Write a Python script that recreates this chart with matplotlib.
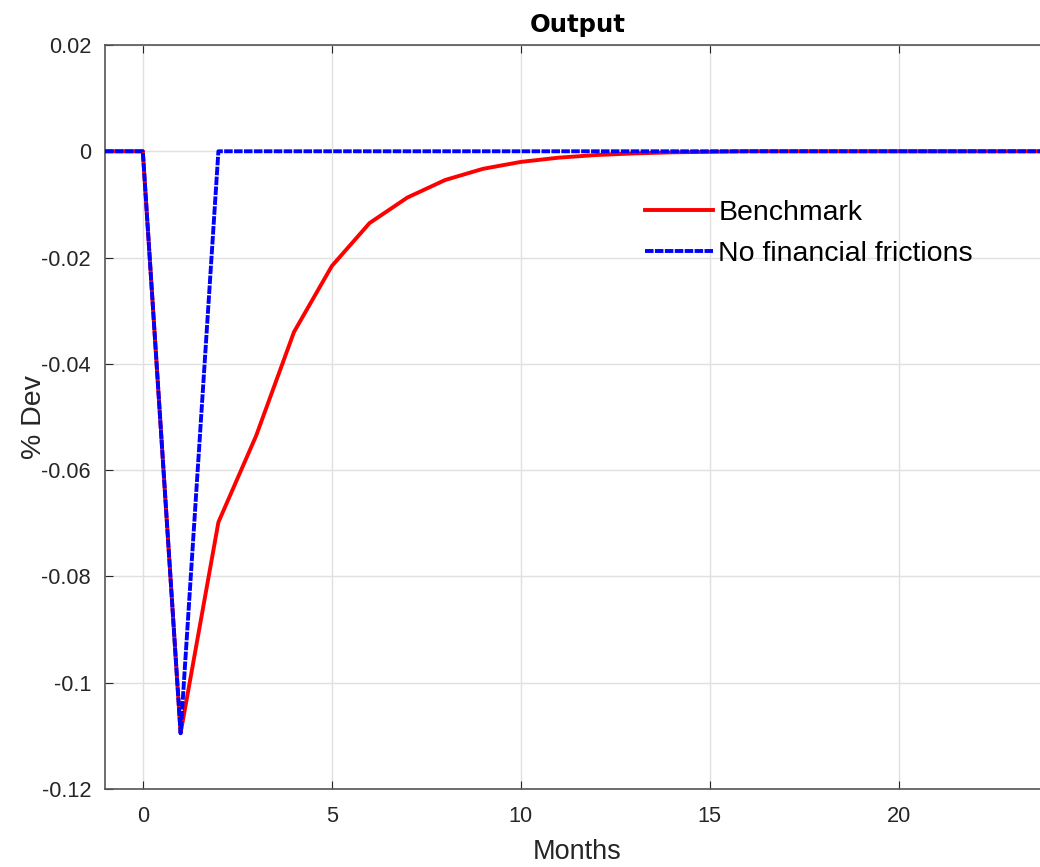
import matplotlib
matplotlib.use("Agg")
import matplotlib.pyplot as plt

plt.rcParams['font.family'] = ['Liberation Sans', 'DejaVu Sans']

months = list(range(-1, 25))
benchmark = [0, 0, -0.1095, -0.0698, -0.0535, -0.0340, -0.0216, -0.0135, -0.0087,
             -0.0054, -0.0033, -0.0020, -0.0012, -0.0007, -0.0004, -0.0002, -0.0001,
             0, 0, 0, 0, 0, 0, 0, 0, 0]
no_frictions = [0, 0, -0.1095] + [0] * 23

xticks = [0, 5, 10, 15, 20]
yticks = [-0.12, -0.1, -0.08, -0.06, -0.04, -0.02, 0, 0.02]
ytick_labels = ['-0.12', '-0.1', '-0.08', '-0.06', '-0.04', '-0.02', '0', '0.02']

fig = plt.figure(figsize=(10.4, 8.67), dpi=100)
ax = fig.add_axes([105/1040, 1 - 789/867, (1050 - 105)/1040, (789 - 45)/867])

ax.plot(months, benchmark, color='red', lw=2.8, label='Benchmark', zorder=3)
ax.plot(months, no_frictions, color='blue', lw=2.8, ls=(0, (2.2, 0.35)),
        label='No financial frictions', zorder=4)

ax.set_xlim(-1, 24)
ax.set_ylim(-0.12, 0.02)
ax.set_xticks(xticks)
ax.set_yticks(yticks)
ax.set_yticklabels(ytick_labels)
ax.grid(True, color='#e0e0e0', lw=1)
ax.set_axisbelow(True)
ax.tick_params(direction='in', length=6, labelsize=15.7, colors='#262626', top=True, right=True)
ax.tick_params(axis='x', pad=12)
ax.tick_params(axis='y', pad=10)
for s in ax.spines.values():
    s.set_color('#555555')
    s.set_linewidth(1.2)

ax.set_title('Output', fontsize=17.5, fontweight='bold', pad=9, family='DejaVu Sans')
ax.set_xlabel('Months', fontsize=19.5, labelpad=9, color='#262626')
ax.set_ylabel('% Dev', fontsize=20.5, labelpad=-4, color='#262626')

leg = ax.legend(loc='upper left', bbox_to_anchor=(645/1040, 1 - 200/867),
                bbox_transform=fig.transFigure, frameon=False, fontsize=20.5,
                handlelength=2.4, handletextpad=0.18, labelspacing=0.52,
                borderaxespad=0, borderpad=0)

fig.savefig('out.png', dpi=100)
